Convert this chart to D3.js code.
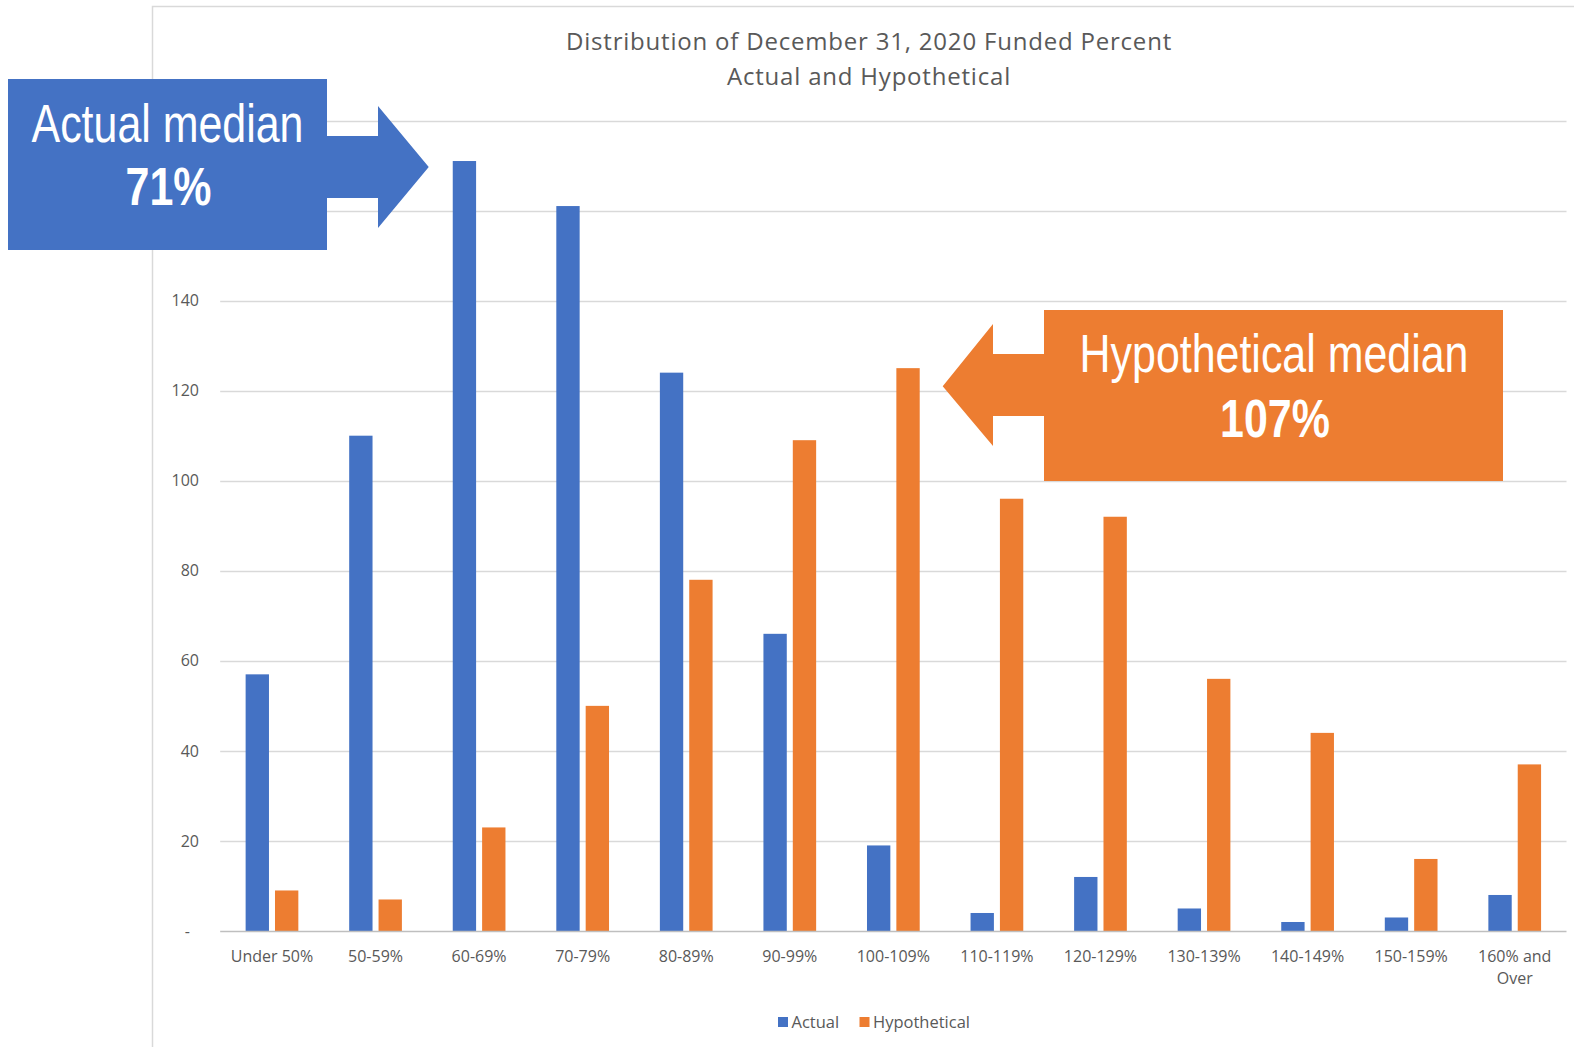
<!DOCTYPE html>
<html>
<head>
<meta charset="utf-8">
<script src="https://cdn.jsdelivr.net/npm/d3@7"></script>
<style>
  html, body { margin: 0; padding: 0; background: #fff; }
  svg { display: block; }
</style>
</head>
<body>
<svg id="chart" width="1574" height="1047"></svg>
<script>
// Funded-percent buckets and plan counts per bucket
const categories = ["Under 50%", "50-59%", "60-69%", "70-79%", "80-89%", "90-99%",
  "100-109%", "110-119%", "120-129%", "130-139%", "140-149%", "150-159%", "160% and Over"];
const actual       = [57, 110, 171, 161, 124, 66, 19, 4, 12, 5, 2, 3, 8];
const hypothetical = [9, 7, 23, 50, 78, 109, 125, 96, 92, 56, 44, 16, 37];
const seriesNames = ["Actual", "Hypothetical"];
const gridTicks = [20, 40, 60, 80, 100, 120, 140, 160, 180];
const labelTicks = [0, 20, 40, 60, 80, 100, 120, 140];   // 160 and 180 sit under the callout box
const titleLines = ["Distribution of December 31, 2020 Funded Percent", "Actual and Hypothetical"];
const actualMedian = "71%";
const hypotheticalMedian = "107%";

const colors = { Actual: "#4472C4", Hypothetical: "#ED7D31" };
const textGrey = "#595959";
const labelFont = "'Open Sans', sans-serif";
const calloutFont = "'Liberation Sans', Arial, sans-serif";

const svg = d3.select("#chart");

// chart-area frame
svg.append("path")
  .attr("d", "M152.5,1047 V6.5 H1574")
  .attr("fill", "none").attr("stroke", "#d9d9d9").attr("stroke-width", 1.5);

const plot = { left: 220.2, right: 1566.5, top: 120.5, bottom: 931 };

const x0 = d3.scaleBand().domain(categories)
  .range([plot.left, plot.right]).paddingInner(0.491).paddingOuter(0.2455);
const x1 = d3.scaleBand().domain(seriesNames)
  .range([0, x0.bandwidth()]).paddingInner(0.205);
const y = d3.scaleLinear().domain([0, 180]).range([plot.bottom, plot.top]);

// horizontal gridlines
svg.append("g").selectAll("line").data(gridTicks).join("line")
  .attr("x1", plot.left).attr("x2", plot.right)
  .attr("y1", d => Math.round(y(d)) + 0.5).attr("y2", d => Math.round(y(d)) + 0.5)
  .attr("stroke", "#d9d9d9").attr("stroke-width", 1.3);

// y axis labels
const yAxis = d3.axisLeft(y).tickValues(labelTicks).tickSize(0).tickPadding(0)
  .tickFormat(d => d === 0 ? "-" : d);
const yg = svg.append("g").attr("transform", `translate(199,0)`).call(yAxis);
yg.select(".domain").remove();
yg.selectAll("text")
  .attr("font-family", labelFont).attr("font-size", 16).attr("fill", textGrey)
  .attr("dx", d => d === 0 ? -9 : 0);

// bars
const rows = categories.map((c, i) => ({ cat: c, Actual: actual[i], Hypothetical: hypothetical[i] }));
const groups = svg.append("g").selectAll("g").data(rows).join("g")
  .attr("transform", d => `translate(${x0(d.cat)},0)`);
groups.selectAll("rect")
  .data(d => seriesNames.map(s => ({ s, v: d[s] })))
  .join("rect")
  .attr("x", d => x1(d.s)).attr("width", x1.bandwidth())
  .attr("y", d => y(d.v)).attr("height", d => y(0) - y(d.v))
  .attr("fill", d => colors[d.s]);

// category axis
svg.append("line")
  .attr("x1", plot.left).attr("x2", plot.right)
  .attr("y1", plot.bottom + 0.5).attr("y2", plot.bottom + 0.5)
  .attr("stroke", "#bfbfbf").attr("stroke-width", 1.5);
const catLabels = svg.append("g").selectAll("text").data(categories).join("text")
  .attr("y", 962)
  .attr("text-anchor", "middle")
  .attr("font-family", labelFont).attr("font-size", 16).attr("fill", textGrey);
catLabels.each(function (d) {
  const t = d3.select(this);
  const cx = x0(d) + x0.bandwidth() / 2;
  const parts = d === "160% and Over" ? ["160% and", "Over"] : [d];
  parts.forEach((p, i) => t.append("tspan").attr("x", cx)
    .attr("dy", i === 0 ? 0 : 22).text(p));
});

// title
svg.append("g").selectAll("text").data(titleLines).join("text")
  .attr("x", 869).attr("y", (d, i) => 50 + i * 35)
  .attr("text-anchor", "middle")
  .attr("font-family", labelFont).attr("font-size", 24).attr("letter-spacing", 0.8)
  .attr("fill", textGrey).text(d => d);

// legend
const legend = svg.append("g").attr("transform", "translate(778,1017)");
const legendX = [0, 81.5];
seriesNames.forEach((s, i) => {
  const g = legend.append("g").attr("transform", `translate(${legendX[i]},0)`);
  g.append("rect").attr("width", 10).attr("height", 10).attr("fill", colors[s]);
  g.append("text").attr("x", 13.5).attr("y", 11)
    .attr("font-family", labelFont).attr("font-size", 16.5).attr("fill", textGrey).text(s);
});

// median callouts: condensed white text on a box with a block arrow
function calloutText(cx, baseline, text, bold) {
  svg.append("text")
    .attr("transform", `translate(${cx},${baseline}) scale(0.81,1)`)
    .attr("text-anchor", "middle")
    .attr("font-family", calloutFont).attr("font-size", 53)
    .attr("font-weight", bold ? "bold" : "normal")
    .attr("fill", "#fff").text(text);
}

const blueTip = [x0("60-69%") + x1("Actual") - 24, y(actual[2]) + 6];
svg.append("rect").attr("x", 8).attr("y", 79).attr("width", 319).attr("height", 171)
  .attr("fill", colors.Actual);
svg.append("path")
  .attr("d", `M326,136 H378 V106 L${blueTip[0]},${blueTip[1]} L378,228 V198 H326 Z`)
  .attr("fill", colors.Actual);
calloutText(167.5, 142, "Actual median", false);
calloutText(168.5, 205, actualMedian, true);

const orangeTip = [x0("100-109%") + x1("Hypothetical") + x1.bandwidth() + 23, y(hypothetical[6]) + 18];
svg.append("rect").attr("x", 1044).attr("y", 310).attr("width", 459).attr("height", 171)
  .attr("fill", colors.Hypothetical);
svg.append("path")
  .attr("d", `M1045,354 H993 V324 L${orangeTip[0]},${orangeTip[1]} L993,446 V416 H1045 Z`)
  .attr("fill", colors.Hypothetical);
calloutText(1274, 372, "Hypothetical median", false);
calloutText(1275, 437, hypotheticalMedian, true);
</script>
</body>
</html>
